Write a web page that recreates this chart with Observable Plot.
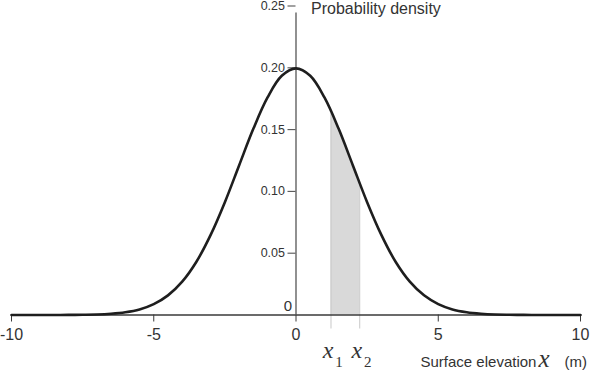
<!DOCTYPE html>
<html>
<head>
<meta charset="utf-8">
<script src="https://cdn.jsdelivr.net/npm/d3@7"></script>
<script src="https://cdn.jsdelivr.net/npm/@observablehq/plot@0.6"></script>
<style>
  html, body { margin: 0; padding: 0; background: #fff; }
  #chart { width: 590px; height: 372px; }
</style>
</head>
<body>
<div id="chart"></div>
<script>
// Density curve
const curveX = [-10,-9.5,-9,-8.5,-8,-7.5,-7,-6.5,-6,-5.5,-5,-4.5,-4,-3.5,-3,-2.5,-2,-1.5,-1,-0.5,0,
                0.5,1,1.5,2,2.5,3,3.5,4,4.5,5,5.5,6,6.5,7,7.5,8,8.5,9,9.5,10];
const curveY = [0,0,0,0,0.0001,0.0002,0.0004,0.001,0.0022,0.0045,0.0088,0.0159,0.027,0.0431,0.0648,0.0913,0.121,0.1506,0.176,0.1935,0.1995,
                0.1935,0.176,0.1506,0.121,0.0913,0.0648,0.0431,0.027,0.0159,0.0088,0.0045,0.0022,0.001,0.0004,0.0002,0.0001,0,0,0,0];
// Shaded band between x1 and x2
const shadeX = [1.23, 1.5, 2.0, 2.24];
const shadeY = [0.163, 0.1506, 0.121, 0.106];
const bounds = [1.23, 2.24];
const boundTop = [0.163, 0.106];
const boundNames = ["1", "2"];
// Tick labels
const xTicks = [-10, -5, 0, 5, 10];
const yTicks = [0.05, 0.10, 0.15, 0.20, 0.25];
const yTitle = "Probability density";
const xTitle = ["Surface elevation", "x", "(m)"];

const curve = curveX.map((x, i) => ({x, y: curveY[i]}));
const shade = shadeX.map((x, i) => ({x, y: shadeY[i]}));
const edges = bounds.map((x, i) => ({x, top: boundTop[i], name: boundNames[i]}));

const axisColor = "#3a3a3a";
const textColor = "#333";
const sans = "'Liberation Sans', Arial, sans-serif";
const serif = "'Liberation Serif', 'Times New Roman', serif";

const chart = Plot.plot({
  width: 590,
  height: 372,
  marginLeft: 11,
  marginRight: 10,
  marginTop: 5.5,
  marginBottom: 57.5,
  style: {fontFamily: sans, color: textColor, background: "#fff", overflow: "visible"},
  x: {domain: [-10, 10], axis: null, label: null},
  y: {domain: [0, 0.25], axis: null, label: null},
  marks: [
    Plot.areaY(shade, {x: "x", y: "y", fill: "#d9d9d9", curve: "catmull-rom"}),
    Plot.ruleX(edges, {x: "x", y1: "top", y2: 0, insetBottom: -14, stroke: "#c8c8c8", strokeWidth: 1}),
    Plot.ruleY([0], {stroke: axisColor, strokeWidth: 1.3}),
    Plot.axisX({ticks: xTicks, tickSize: 7, tickPadding: 7, fontSize: 16, stroke: axisColor, label: null,
                tickFormat: d => String(d)}),
    Plot.ruleX([0], {y1: 0, y2: 0.25, insetBottom: -7, stroke: "#555", strokeWidth: 1.3}),
    Plot.ruleY(yTicks, {x1: 0, x2: 0, insetLeft: -8, stroke: "#555", strokeWidth: 1.1}),
    Plot.text(yTicks, {x: 0, y: d => d, text: d => d3.format(".2f")(d), textAnchor: "end", dx: -11,
                       fontSize: 12.5, fill: textColor}),
    Plot.text(["0"], {x: 0, y: 0, text: d => d, textAnchor: "end", dx: -4, dy: -9, fontSize: 15, fill: textColor}),
    Plot.text([yTitle], {x: 0, y: 0.25, text: d => d, textAnchor: "start", dx: 15, dy: 2.5,
                       fontSize: 16, fill: textColor}),
    Plot.line(curve, {x: "x", y: "y", stroke: "#1e1e1e", strokeWidth: 2.6, curve: "catmull-rom"}),
    // x1, x2 labels
    Plot.text(edges, {x: "x", y: 0, text: () => "x", dx: -3, dy: 35, fontFamily: serif,
                      fontStyle: "italic", fontSize: 24, fill: textColor}),
    Plot.text(edges, {x: "x", y: 0, text: "name", dx: 8, dy: 47, fontFamily: serif,
                      fontSize: 15, fill: textColor}),
    // x axis title pieces
    Plot.text([xTitle[0]], {x: 10, y: 0, text: d => d, textAnchor: "start", dx: -160, dy: 47, fontSize: 15, fill: textColor}),
    Plot.text([xTitle[1]], {x: 10, y: 0, text: d => d, textAnchor: "start", dx: -42, dy: 44, fontFamily: serif,
                            fontStyle: "italic", fontSize: 25, fill: textColor}),
    Plot.text([xTitle[2]], {x: 10, y: 0, text: d => d, textAnchor: "start", dx: -16, dy: 47, fontSize: 15, fill: textColor})
  ]
});

document.getElementById("chart").appendChild(chart);
</script>
</body>
</html>
